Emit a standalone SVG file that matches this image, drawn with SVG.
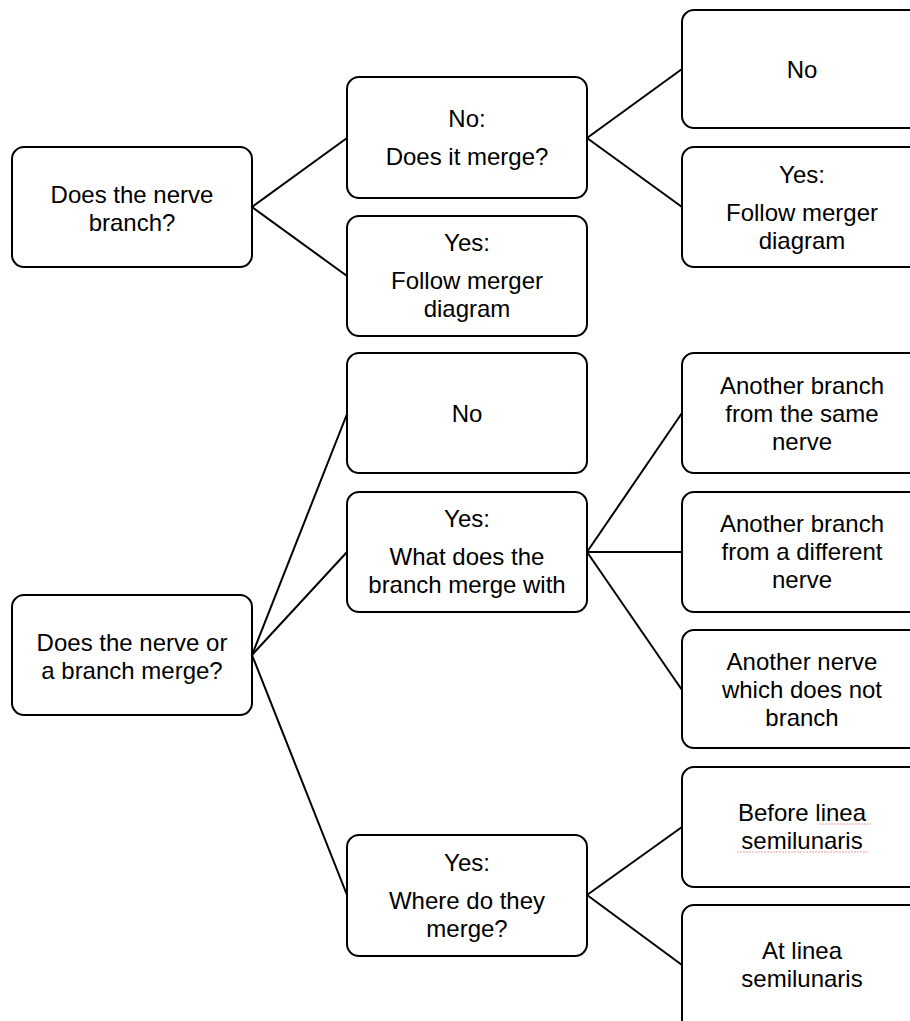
<svg xmlns="http://www.w3.org/2000/svg" width="910" height="1021" viewBox="0 0 910 1021">
<style>
.box{fill:#fff;stroke:#000;stroke-width:2}
.t{font-family:"Liberation Sans",Arial,sans-serif;font-size:24px;fill:#000;text-anchor:middle}
.c{stroke:#000;stroke-width:2;fill:none}
.sp{stroke:#f0a0a0;stroke-width:1;stroke-dasharray:2 1;fill:none}
</style>
<rect width="910" height="1021" fill="#fff"/>
<g id="connectors">
<line class="c" x1="252" y1="207" x2="347" y2="138"/>
<line class="c" x1="252" y1="207" x2="347" y2="276"/>
<line class="c" x1="587" y1="138" x2="682" y2="69"/>
<line class="c" x1="587" y1="138" x2="682" y2="207"/>
<line class="c" x1="252" y1="655" x2="347" y2="414"/>
<line class="c" x1="252" y1="655" x2="347" y2="552"/>
<line class="c" x1="252" y1="655" x2="347" y2="895"/>
<line class="c" x1="587" y1="552" x2="682" y2="413"/>
<line class="c" x1="587" y1="552" x2="682" y2="552"/>
<line class="c" x1="587" y1="552" x2="682" y2="690"/>
<line class="c" x1="587" y1="895" x2="682" y2="827"/>
<line class="c" x1="587" y1="895" x2="682" y2="965"/>
</g>
<g id="n1">
<rect class="box" x="12" y="147" width="240" height="120" rx="12"/>
<text class="t" x="132" y="203">Does the nerve</text>
<text class="t" x="132" y="231">branch?</text>
</g>
<g id="n2">
<rect class="box" x="347" y="77" width="240" height="121" rx="12"/>
<text class="t" x="467" y="127">No:</text>
<text class="t" x="467" y="165">Does it merge?</text>
</g>
<g id="n3">
<rect class="box" x="347" y="216" width="240" height="120" rx="12"/>
<text class="t" x="467" y="251">Yes:</text>
<text class="t" x="467" y="289">Follow merger</text>
<text class="t" x="467" y="317">diagram</text>
</g>
<g id="n4">
<rect class="box" x="682" y="10" width="240" height="118" rx="12"/>
<text class="t" x="802" y="78">No</text>
</g>
<g id="n5">
<rect class="box" x="682" y="147" width="240" height="120" rx="12"/>
<text class="t" x="802" y="183">Yes:</text>
<text class="t" x="802" y="221">Follow merger</text>
<text class="t" x="802" y="249">diagram</text>
</g>
<g id="n6">
<rect class="box" x="12" y="595" width="240" height="120" rx="12"/>
<text class="t" x="132" y="651">Does the nerve or</text>
<text class="t" x="132" y="679">a branch merge?</text>
</g>
<g id="n7">
<rect class="box" x="347" y="353" width="240" height="120" rx="12"/>
<text class="t" x="467" y="422">No</text>
</g>
<g id="n8">
<rect class="box" x="347" y="492" width="240" height="120" rx="12"/>
<text class="t" x="467" y="527">Yes:</text>
<text class="t" x="467" y="565">What does the</text>
<text class="t" x="467" y="593">branch merge with</text>
</g>
<g id="n9">
<rect class="box" x="682" y="353" width="240" height="120" rx="12"/>
<text class="t" x="802" y="394">Another branch</text>
<text class="t" x="802" y="422">from the same</text>
<text class="t" x="802" y="450">nerve</text>
</g>
<g id="n10">
<rect class="box" x="682" y="492" width="240" height="120" rx="12"/>
<text class="t" x="802" y="532">Another branch</text>
<text class="t" x="802" y="560">from a different</text>
<text class="t" x="802" y="588">nerve</text>
</g>
<g id="n11">
<rect class="box" x="682" y="630" width="240" height="118" rx="12"/>
<text class="t" x="802" y="670">Another nerve</text>
<text class="t" x="802" y="698">which does not</text>
<text class="t" x="802" y="726">branch</text>
</g>
<g id="n12">
<rect class="box" x="347" y="835" width="240" height="121" rx="12"/>
<text class="t" x="467" y="871">Yes:</text>
<text class="t" x="467" y="909">Where do they</text>
<text class="t" x="467" y="937">merge?</text>
</g>
<g id="n13">
<rect class="box" x="682" y="767" width="240" height="120" rx="12"/>
<text class="t" x="802" y="821">Before linea</text>
<text class="t" x="802" y="849">semilunaris</text>
<line class="sp" x1="819" y1="824" x2="871" y2="824"/>
<line class="sp" x1="737" y1="852" x2="868" y2="852"/>
</g>
<g id="n14">
<rect class="box" x="682" y="905" width="240" height="140" rx="12"/>
<text class="t" x="802" y="959">At linea</text>
<text class="t" x="802" y="987">semilunaris</text>
</g>
</svg>
